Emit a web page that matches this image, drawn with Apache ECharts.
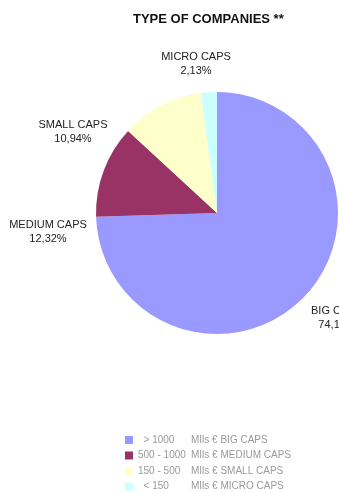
<!DOCTYPE html>
<html>
<head>
<meta charset="utf-8">
<script src="https://cdn.jsdelivr.net/npm/echarts@6/dist/echarts.min.js"></script>
<style>
  html, body { margin: 0; padding: 0; background: #fff; }
  #main { width: 339px; height: 493px; }
</style>
</head>
<body>
<div id="main"></div>
<script>
// ---------- pie: type of companies ----------
var categories = ['BIG CAPS', 'MEDIUM CAPS', 'SMALL CAPS', 'MICRO CAPS'];
var values = [74.17, 12.32, 10.94, 2.13];
var ranges = ['  > 1000', '500 - 1000', '150 - 500', '  < 150'];
var colorList = ['#9999ff', '#993366', '#ffffcc', '#ccffff'];

// label centres (Excel best-fit placement)
var labelSpots = [[337, 318], [48, 232], [73, 132], [196, 64]];

var chartDom = document.getElementById('main');
var pieChart = echarts.init(chartDom);

var pieData = categories.map(function (name, i) {
    return { name: name, value: values[i] };
});

var pieOption = {
    backgroundColor: '#fff',
    animation: false,
    textStyle: { fontFamily: 'Liberation Sans, Arial, sans-serif' },
    title: {
        text: 'TYPE OF COMPANIES **',
        left: 128,
        top: 8,
        textStyle: {
            fontSize: 13,
            fontWeight: 'bold',
            color: '#111',
            fontFamily: 'Liberation Sans, Arial, sans-serif'
        }
    },
    color: colorList,
    legend: {
        orient: 'vertical',
        left: 125,
        top: 435,
        padding: 0,
        itemWidth: 8,
        itemHeight: 8,
        itemGap: 5.5,
        icon: 'rect',
        data: categories,
        formatter: function (name) {
            var i = categories.indexOf(name);
            return '{a|' + ranges[i] + '}{b|MIls € ' + name + '}';
        },
        textStyle: {
            color: '#9a9a9a',
            fontSize: 10,
            rich: {
                a: { width: 53, fontSize: 10, color: '#9a9a9a', lineHeight: 11 },
                b: { fontSize: 10, color: '#9a9a9a', lineHeight: 11 }
            }
        }
    },
    series: [{
        type: 'pie',
        center: [217, 213],
        radius: 121,
        startAngle: 90,
        clockwise: true,
        avoidLabelOverlap: false,
        data: pieData,
        itemStyle: { borderWidth: 0 },
        emphasis: { disabled: true },
        label: {
            show: true,
            position: 'outside',
            color: '#222',
            fontSize: 11,
            lineHeight: 14,
            align: 'center',
            overflow: 'none',
            bleedMargin: 0,
            formatter: function (p) {
                return p.name + '\n' + p.value.toFixed(2).replace('.', ',') + '%';
            }
        },
        labelLine: { show: false },
        labelLayout: function (params) {
            var s = labelSpots[params.dataIndex];
            return { x: s[0], y: s[1], align: 'center', verticalAlign: 'middle' };
        }
    }]
};

pieChart.setOption(pieOption);
</script>
</body>
</html>
